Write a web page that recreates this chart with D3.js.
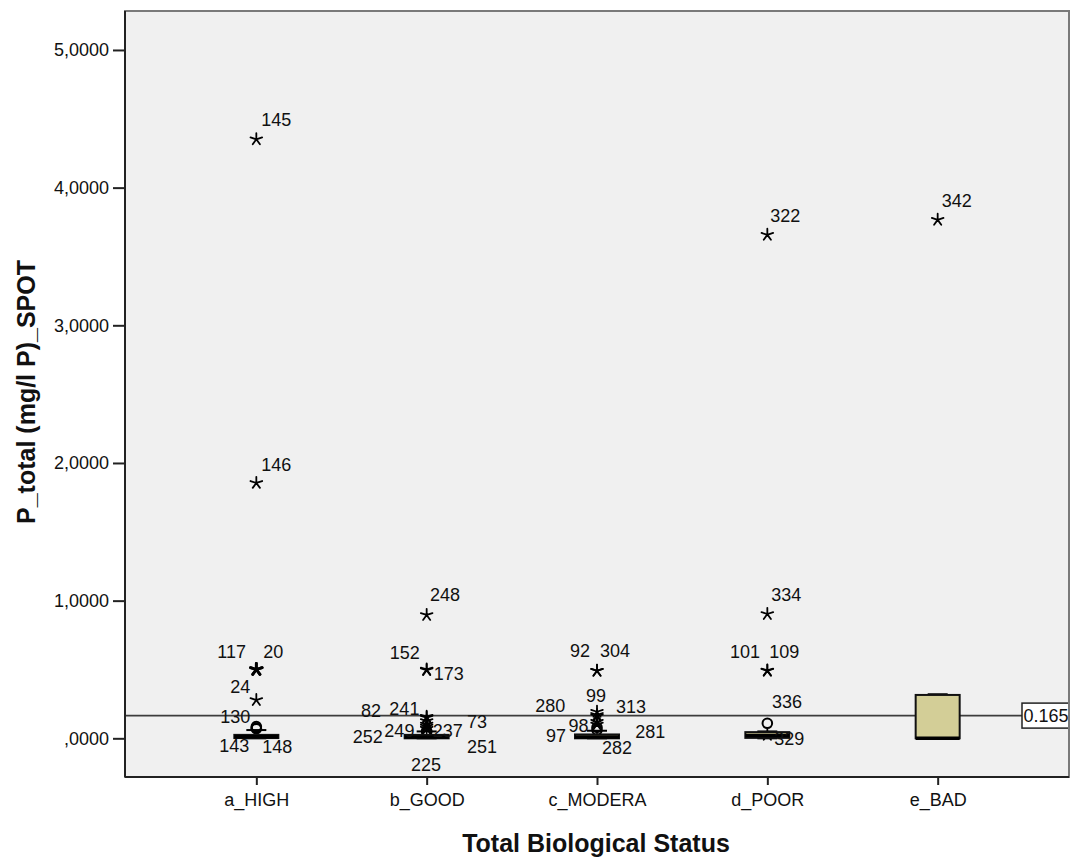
<!DOCTYPE html>
<html>
<head>
<meta charset="utf-8">
<script src="https://cdn.jsdelivr.net/npm/d3@7"></script>
<style>
  html, body { margin: 0; padding: 0; background: #ffffff; }
  svg { display: block; }
  text { font-family: "Liberation Sans", Arial, sans-serif; fill: #111; }
</style>
</head>
<body>
<svg id="chart" width="1071" height="858"></svg>
<script>
// ---------------- data ----------------
const categories = ["a_HIGH", "b_GOOD", "c_MODERA", "d_POOR", "e_BAD"];
const yTickValues = [0, 1, 2, 3, 4, 5];
const yTickLabels = [",0000", "1,0000", "2,0000", "3,0000", "4,0000", "5,0000"];

// box plot summaries (per category)
const whiskerLow  = [0.000, 0.000, 0.000, 0.000, 0.000];
const boxQ1       = [0.002, 0.000, 0.000, 0.003, 0.000];
const boxMedian   = [0.012, 0.010, 0.010, 0.020, 0.000];
const boxQ3       = [0.025, 0.025, 0.028, 0.045, 0.315];
const whiskerHigh = [0.060, 0.050, 0.055, 0.050, 0.320];

// outliers ("star" = extreme, "circle" = outlier)
const outlierCategory = [
  "a_HIGH","a_HIGH","a_HIGH","a_HIGH","a_HIGH","a_HIGH","a_HIGH","a_HIGH",
  "b_GOOD","b_GOOD","b_GOOD","b_GOOD","b_GOOD","b_GOOD","b_GOOD","b_GOOD","b_GOOD","b_GOOD","b_GOOD",
  "c_MODERA","c_MODERA","c_MODERA","c_MODERA","c_MODERA","c_MODERA","c_MODERA","c_MODERA","c_MODERA",
  "d_POOR","d_POOR","d_POOR","d_POOR","d_POOR","d_POOR",
  "e_BAD"
];
const outlierValue = [
  4.351, 1.855, 0.50, 0.50, 0.278, 0.085, 0.075, 0.070,
  0.896, 0.495, 0.500, 0.157, 0.150, 0.125, 0.100, 0.085, 0.070, 0.055, 0.045,
  0.490, 0.491, 0.193, 0.170, 0.160, 0.120, 0.080, 0.100, 0.060,
  3.657, 0.903, 0.490, 0.493, 0.109, 0.025,
  3.766
];
const outlierKind = [
  "star","star","star","star","star","circle","circle","circle",
  "star","star","star","star","star","star","star","star","star","circle","circle",
  "star","star","star","star","star","star","circle","star","circle",
  "star","star","star","star","circle","star",
  "star"
];
const outlierLabel = [
  "145","146","117","20","24","130","143","148",
  "248","152","173","82","241","73","237","249","252","251","225",
  "92","304","99","280","313","98","97","281","282",
  "322","334","101","109","336","329",
  "342"
];
// label placement relative to its point (text left edge, baseline)
const labelOffsetX = [
  5, 5, -39, 7, -26, -36, -37, 6,
  3.4, -37, 7, -65.6, -37.3, 40.4, 6, -42.3, -74, 40.4, -15.6,
  -27, 3, -11, -61.7, 19, -28.4, -51, 38.3, 5,
  3, 4, -37.3, 2, 4.7, 7,
  4
];
const labelOffsetY = [
  -13, -12, -11.5, -11.5, -7, -3.6, 23.7, 24.6,
  -14.3, -11, 10.7, 0.6, -2.7, 7.2, 12.2, 10.1, 14, 22.6, 38.6,
  -14.1, -14.1, -10, -3.2, -3.6, 9.9, 14.4, 13.2, 24,
  -13, -13, -12.5, -12.5, -15, 10.1,
  -13
];

const referenceValue = 0.165;
const referenceLabel = "0.165";
const xTitle = "Total Biological Status";
const yTitle = "P_total (mg/l P)_SPOT";

// ---------------- layout ----------------
const svg = d3.select("#chart");
const plot = { left: 125, right: 1069, top: 11, bottom: 777 };

const x = d3.scalePoint().domain(categories).range([plot.left, plot.right]).padding(0.771);
const y = d3.scaleLinear().domain([-0.281, 5.283]).range([plot.bottom, plot.top]);

// plot background
svg.append("rect")
  .attr("x", plot.left).attr("y", plot.top)
  .attr("width", plot.right - plot.left).attr("height", plot.bottom - plot.top)
  .attr("fill", "#f0f0f0")
  .attr("stroke", "#7a7a7a").attr("stroke-width", 2);

// reference line
svg.append("line")
  .attr("x1", plot.left).attr("x2", plot.right)
  .attr("y1", y(referenceValue)).attr("y2", y(referenceValue))
  .attr("stroke", "#3c3c3c").attr("stroke-width", 1.6);

// outliers
const outliers = outlierValue.map((v, i) => ({
  cat: outlierCategory[i], value: v, kind: outlierKind[i], label: outlierLabel[i],
  dx: labelOffsetX[i], dy: labelOffsetY[i]
}));
const multiplicity = d3.rollup(outliers, v => v.length, d => d.cat + "|" + d.value + "|" + d.kind);

const asterisk5 = {
  draw(ctx, size) {
    const r = Math.sqrt(size) / 2;
    for (let k = 0; k < 5; k++) {
      const a = -Math.PI / 2 + k * 2 * Math.PI / 5;
      ctx.moveTo(0, 0);
      ctx.lineTo(r * Math.cos(a), r * Math.sin(a));
    }
  }
};
const starPath = d3.symbol().type(asterisk5).size(150)();

const marks = svg.append("g");
outliers.forEach(d => {
  const px = x(d.cat), py = y(d.value);
  const n = multiplicity.get(d.cat + "|" + d.value + "|" + d.kind);
  if (d.kind === "star") {
    marks.append("path").attr("d", starPath)
      .attr("transform", `translate(${px},${py})`)
      .attr("fill", "none").attr("stroke", "#000")
      .attr("stroke-width", n > 1 ? 2.8 : 1.8).attr("stroke-linecap", "round");
  } else {
    marks.append("circle").attr("cx", px).attr("cy", py).attr("r", 4.8)
      .attr("fill", "none").attr("stroke", "#000").attr("stroke-width", 2);
  }
});

// boxes (drawn over the markers)
const boxW = 44, capW = 20;
const boxes = svg.append("g");
categories.forEach((c, i) => {
  const cx = x(c);
  const g = boxes.append("g");
  g.append("line").attr("x1", cx).attr("x2", cx)
    .attr("y1", y(boxQ3[i])).attr("y2", y(whiskerHigh[i]))
    .attr("stroke", "#000").attr("stroke-width", 1.5);
  g.append("line").attr("x1", cx).attr("x2", cx)
    .attr("y1", y(boxQ1[i])).attr("y2", y(whiskerLow[i]))
    .attr("stroke", "#000").attr("stroke-width", 1.5);
  g.append("line").attr("x1", cx - capW / 2).attr("x2", cx + capW / 2)
    .attr("y1", y(whiskerHigh[i])).attr("y2", y(whiskerHigh[i]))
    .attr("stroke", "#000").attr("stroke-width", 2);
  g.append("line").attr("x1", cx - capW / 2).attr("x2", cx + capW / 2)
    .attr("y1", y(whiskerLow[i])).attr("y2", y(whiskerLow[i]))
    .attr("stroke", "#000").attr("stroke-width", 2);
  g.append("rect")
    .attr("x", cx - boxW / 2).attr("width", boxW)
    .attr("y", y(boxQ3[i])).attr("height", Math.max(0.5, y(boxQ1[i]) - y(boxQ3[i])))
    .attr("fill", "#d3ce97").attr("stroke", "#111").attr("stroke-width", 2);
  g.append("line").attr("x1", cx - boxW / 2).attr("x2", cx + boxW / 2)
    .attr("y1", y(boxMedian[i])).attr("y2", y(boxMedian[i]))
    .attr("stroke", "#000").attr("stroke-width", 3.5);
});

const labels = svg.append("g").attr("font-size", 18);
outliers.forEach(d => {
  labels.append("text")
    .attr("x", x(d.cat) + d.dx).attr("y", y(d.value) + d.dy)
    .text(d.label);
});

// reference label
const refY = y(referenceValue);
svg.append("rect").attr("x", 1022).attr("y", refY - 12.5).attr("width", 52).attr("height", 25)
  .attr("fill", "#ffffff").attr("stroke", "#222").attr("stroke-width", 1.5);
svg.append("text").attr("x", 1023.5).attr("y", refY + 6.5).attr("font-size", 18).text(referenceLabel);

// right border overdraw (clip label box at plot edge)
svg.append("rect").attr("x", plot.right + 1).attr("y", 0).attr("width", 10).attr("height", 858).attr("fill", "#fff");
svg.append("line").attr("x1", plot.right).attr("x2", plot.right).attr("y1", plot.top).attr("y2", plot.bottom)
  .attr("stroke", "#7a7a7a").attr("stroke-width", 2);

// axes
const yAxis = d3.axisLeft(y).tickValues(yTickValues).tickFormat((d, i) => yTickLabels[i]).tickSize(12).tickPadding(4);
const gy = svg.append("g").attr("transform", `translate(${plot.left},0)`).call(yAxis);
gy.select(".domain").attr("stroke", "#222").attr("stroke-width", 2)
  .attr("d", `M0,${plot.top}V${plot.bottom}`);
gy.selectAll(".tick line").attr("stroke", "#222").attr("stroke-width", 2);
gy.selectAll(".tick text").attr("font-size", 18).attr("font-family", "Liberation Sans, Arial, sans-serif").attr("fill", "#111");

const xAxis = d3.axisBottom(x).tickSize(8).tickPadding(8);
const gx = svg.append("g").attr("transform", `translate(0,${plot.bottom})`).call(xAxis);
gx.select(".domain").attr("stroke", "#222").attr("stroke-width", 2)
  .attr("d", `M${plot.left},0H${plot.right}`);
gx.selectAll(".tick line").attr("stroke", "#222").attr("stroke-width", 2);
gx.selectAll(".tick text").attr("font-size", 18).attr("font-family", "Liberation Sans, Arial, sans-serif").attr("fill", "#111");

// titles
svg.append("text").attr("x", 596).attr("y", 852).attr("text-anchor", "middle")
  .attr("font-size", 25).attr("font-weight", "bold").text(xTitle);
svg.append("text").attr("transform", "translate(35,392) rotate(-90)").attr("text-anchor", "middle")
  .attr("font-size", 25).attr("font-weight", "bold").text(yTitle);
</script>
</body>
</html>
